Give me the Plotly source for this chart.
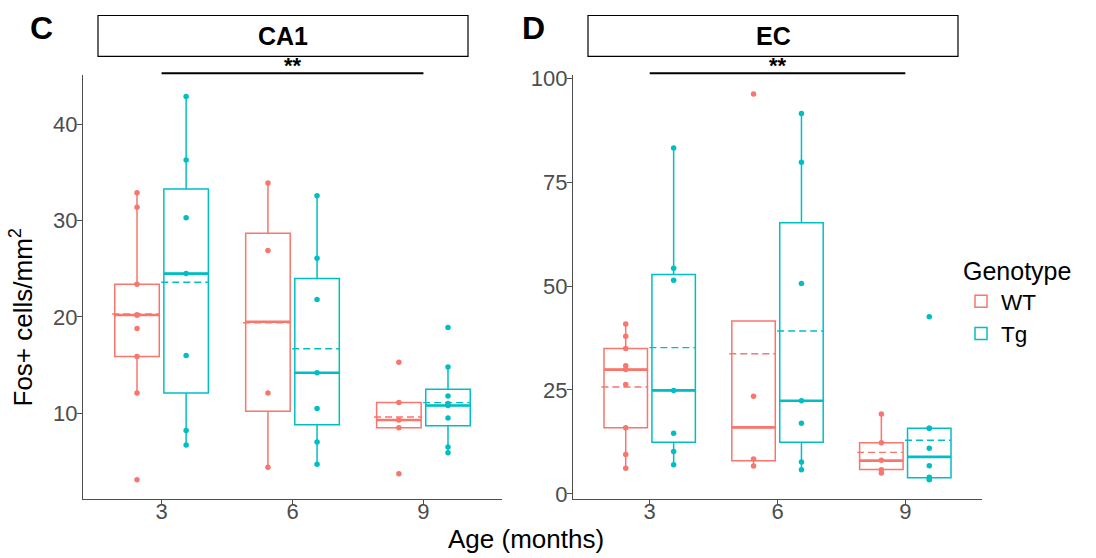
import plotly.graph_objects as go

ages = ["3", "6", "9"]
genotypes = ["WT", "Tg"]
colors = {"WT": "#F8766D", "Tg": "#00BFC4"}

# ---------------- CA1 (panel C) ----------------
ca1_wt_points = [
    [32.9, 31.4, 23.4, 20.2, 20.2, 18.8, 15.9, 12.1, 3.1],
    [33.9, 26.9, 12.1, 4.4],
    [15.3, 11.1, 9.3, 8.5, 3.7],
]
ca1_tg_points = [
    [42.9, 36.3, 30.3, 24.5, 16.0, 8.2, 6.7],
    [32.6, 26.1, 21.8, 14.2, 10.5, 7.0, 4.7],
    [18.9, 14.8, 11.8, 11.0, 10.8, 9.5, 6.5, 5.9],
]
ca1_wt_q1 = [15.9, 10.2, 8.5]
ca1_wt_median = [20.2, 19.5, 9.3]
ca1_wt_q3 = [23.4, 28.7, 11.1]
ca1_wt_low = [12.1, 4.4, 8.5]
ca1_wt_high = [32.9, 33.9, 11.1]
ca1_wt_mean = [20.3, 19.4, 9.6]

ca1_tg_q1 = [12.1, 8.8, 8.7]
ca1_tg_median = [24.5, 14.2, 10.8]
ca1_tg_q3 = [33.3, 24.0, 12.5]
ca1_tg_low = [6.7, 4.7, 5.9]
ca1_tg_high = [42.9, 32.6, 14.8]
ca1_tg_mean = [23.6, 16.7, 11.1]

# ---------------- EC (panel D) ----------------
ec_wt_points = [
    [40.9, 37.9, 35.0, 30.8, 29.9, 26.3, 15.9, 9.5, 6.2],
    [96.2, 23.5, 8.4, 6.7],
    [19.2, 12.3, 8.1, 5.8, 5.0],
]
ec_tg_points = [
    [83.2, 54.3, 51.4, 24.9, 14.6, 10.2, 7.0],
    [91.5, 79.8, 50.6, 22.4, 17.0, 7.7, 5.8],
    [42.6, 15.8, 15.8, 11.0, 6.8, 4.0, 3.6, 3.4],
]
ec_wt_q1 = [15.9, 8.0, 5.9]
ec_wt_median = [29.9, 16.0, 8.0]
ec_wt_q3 = [35.0, 41.6, 12.3]
ec_wt_low = [6.2, 6.7, 5.0]
ec_wt_high = [40.9, 41.6, 19.2]
ec_wt_mean = [25.7, 33.7, 10.0]

ec_tg_q1 = [12.4, 12.4, 3.9]
ec_tg_median = [24.9, 22.4, 8.9]
ec_tg_q3 = [52.8, 65.2, 15.8]
ec_tg_low = [7.0, 5.8, 3.4]
ec_tg_high = [83.2, 91.5, 15.8]
ec_tg_mean = [35.2, 39.2, 12.9]

ca1_yticks = [10, 20, 30, 40]
ec_yticks = [0, 25, 50, 75, 100]

panels = [
    dict(name="CA1", label="C", xa="x", ya="y",
         WT=dict(points=ca1_wt_points, q1=ca1_wt_q1, med=ca1_wt_median, q3=ca1_wt_q3,
                 lo=ca1_wt_low, hi=ca1_wt_high, mean=ca1_wt_mean),
         Tg=dict(points=ca1_tg_points, q1=ca1_tg_q1, med=ca1_tg_median, q3=ca1_tg_q3,
                 lo=ca1_tg_low, hi=ca1_tg_high, mean=ca1_tg_mean)),
    dict(name="EC", label="D", xa="x2", ya="y2",
         WT=dict(points=ec_wt_points, q1=ec_wt_q1, med=ec_wt_median, q3=ec_wt_q3,
                 lo=ec_wt_low, hi=ec_wt_high, mean=ec_wt_mean),
         Tg=dict(points=ec_tg_points, q1=ec_tg_q1, med=ec_tg_median, q3=ec_tg_q3,
                 lo=ec_tg_low, hi=ec_tg_high, mean=ec_tg_mean)),
]

W, H = 1096, 558
FONT = "Liberation Sans, Arial, sans-serif"
dodge = {"WT": -0.1875, "Tg": 0.1875}
box_w = 0.34

# the photographed page maps layout rows to image rows as 8.5 + 0.9727*y;
# place things by their wanted image row
def py(y_img):
    return 1 - ((y_img - 8.5) / 0.9727) / H

fig = go.Figure()

for pi, p in enumerate(panels):
    for g in genotypes:
        d = p[g]
        xs = [i + dodge[g] for i in range(len(ages))]
        c = colors[g]
        fig.add_trace(go.Box(
            x=xs, q1=d["q1"], median=d["med"], q3=d["q3"],
            lowerfence=d["lo"], upperfence=d["hi"],
            width=box_w, whiskerwidth=0,
            line=dict(color=c, width=1.5), fillcolor="rgba(255,255,255,0)",
            name=g, legendgroup=g, showlegend=(pi == 0),
            xaxis=p["xa"], yaxis=p["ya"], hoverinfo="skip",
        ))
        mx, my, ax_, ay_ = [], [], [], []
        for i, x in enumerate(xs):
            mx += [x - box_w / 2, x + box_w / 2, None]
            my += [d["med"][i], d["med"][i], None]
            ax_ += [x - box_w / 2 - 0.02, x + box_w / 2, None]
            ay_ += [d["mean"][i], d["mean"][i], None]
        fig.add_trace(go.Scatter(x=mx, y=my, mode="lines", line=dict(color=c, width=2.6),
                                 showlegend=False, xaxis=p["xa"], yaxis=p["ya"], hoverinfo="skip"))
        fig.add_trace(go.Scatter(x=ax_, y=ay_, mode="lines", line=dict(color=c, width=1.4, dash="7px,4px"),
                                 showlegend=False, xaxis=p["xa"], yaxis=p["ya"], hoverinfo="skip"))
        px_, py_ = [], []
        for i, x in enumerate(xs):
            for v in d["points"][i]:
                px_.append(x)
                py_.append(v)
        fig.add_trace(go.Scatter(x=px_, y=py_, mode="markers", marker=dict(color=c, size=5.5),
                                 showlegend=False, xaxis=p["xa"], yaxis=p["ya"], hoverinfo="skip"))

axis_common = dict(showline=True, linecolor="#4d4d4d", linewidth=1.2, ticks="outside",
                   ticklen=5, tickcolor="#4d4d4d", tickwidth=1.2, showgrid=False, zeroline=False,
                   tickfont=dict(family=FONT, size=22, color="#4d4d4d"))

ydom = [py(500), py(75)]
fig.update_layout(
    width=W, height=H, margin=dict(l=0, r=0, t=0, b=0), autosize=False,
    paper_bgcolor="white", plot_bgcolor="white", boxmode="overlay",
    xaxis=dict(domain=[83 / W, 502 / W], range=[-0.6, 2.6], tickvals=[0, 1, 2], ticktext=ages,
               anchor="y", ticklabelstandoff=-12, **axis_common),
    yaxis=dict(domain=ydom, range=[1.1, 45.1], tickvals=ca1_yticks, anchor="x",
               ticklabelstandoff=-5, **axis_common),
    xaxis2=dict(domain=[573 / W, 982 / W], range=[-0.6, 2.6], tickvals=[0, 1, 2], ticktext=ages,
                anchor="y2", ticklabelstandoff=-12, **axis_common),
    yaxis2=dict(domain=ydom, range=[-1.2, 100.7], tickvals=ec_yticks, anchor="x2",
                ticklabelstandoff=-5, **axis_common),
    legend=dict(x=961 / W, y=py(248), xanchor="left", yanchor="top",
                title=dict(text="Genotype", font=dict(family=FONT, size=25, color="black")),
                font=dict(family=FONT, size=22.5, color="black"), tracegroupgap=0,
                bgcolor="rgba(0,0,0,0)"),
    font=dict(family=FONT),
)

strips = [(98, 468, 283), (588, 958, 773)]
label_x = [41, 533]
for pi, p in enumerate(panels):
    x0, x1, xc = strips[pi]
    fig.add_shape(type="rect", xref="paper", yref="paper", x0=x0 / W, x1=x1 / W,
                  y0=py(56), y1=py(15), line=dict(color="black", width=1.2))
    fig.add_annotation(text="<b>%s</b>" % p["name"], xref="paper", yref="paper",
                       x=xc / W, y=py(36), showarrow=False,
                       xanchor="center", yanchor="middle",
                       font=dict(family=FONT, size=25, color="black"))
    fig.add_annotation(text="<b>%s</b>" % p["label"], xref="paper", yref="paper",
                       x=label_x[pi] / W, y=py(28), showarrow=False,
                       xanchor="center", yanchor="middle",
                       font=dict(family=FONT, size=32, color="black"))
    fig.add_shape(type="line", xref=p["xa"], yref="paper", x0=0, x1=2,
                  y0=py(73), y1=py(73), line=dict(color="black", width=2))
    fig.add_annotation(text="<b>**</b>", xref=p["xa"], yref="paper", x=1, y=py(65),
                       showarrow=False, xanchor="center", yanchor="middle",
                       font=dict(family=FONT, size=22, color="black"))

fig.add_annotation(text="Fos+ cells/mm<sup>2</sup>", xref="paper", yref="paper",
                   x=22 / W, y=py(318), textangle=-90, showarrow=False,
                   xanchor="center", yanchor="middle",
                   font=dict(family=FONT, size=26, color="black"))
fig.add_annotation(text="Age (months)", xref="paper", yref="paper",
                   x=526 / W, y=py(540), showarrow=False,
                   xanchor="center", yanchor="middle",
                   font=dict(family=FONT, size=26, color="black"))

fig.write_html("out.html")
